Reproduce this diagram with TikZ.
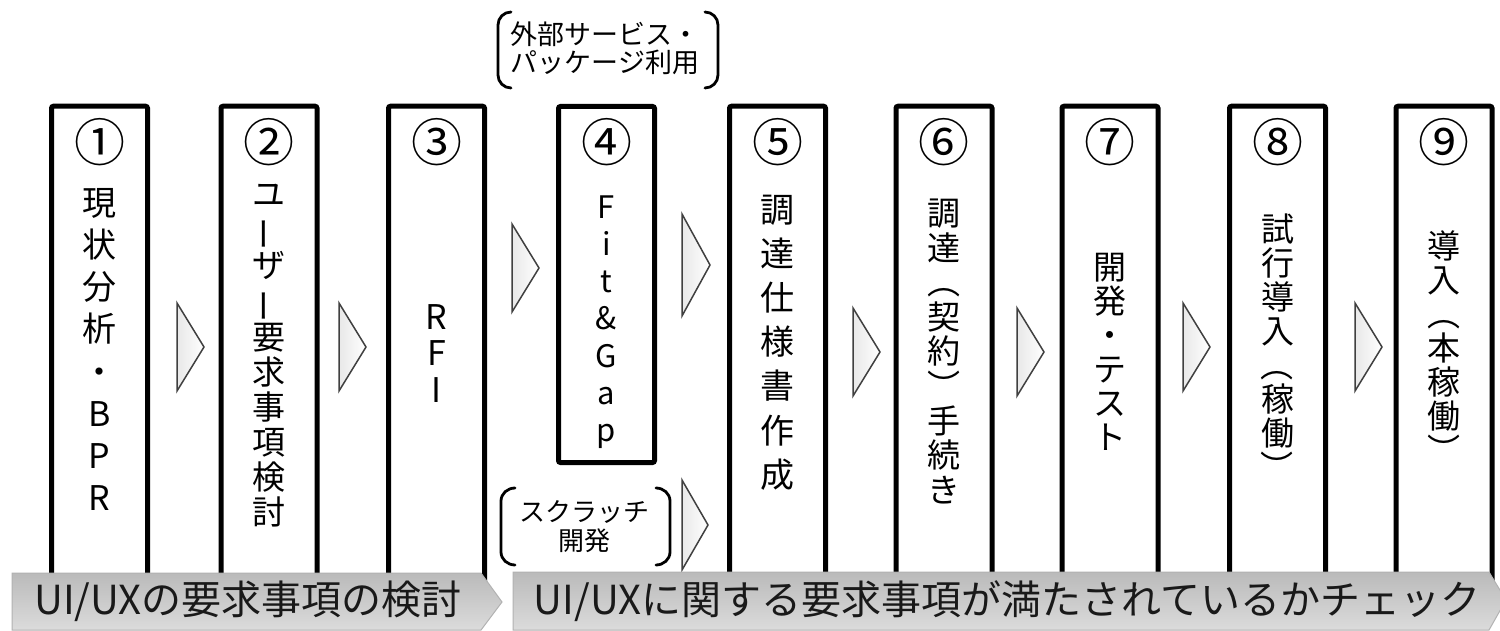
\documentclass[tikz,border=0pt]{standalone}
\usepackage{fontspec}
\usepackage{graphicx}
\setmainfont{Noto Sans CJK JP}
\newcommand\fsz[2]{\fontsize{#1}{#2}\selectfont}
\newcommand\vbar{\rotatebox[origin=c]{90}{ー}}
\newcommand\vlp{\rotatebox[origin=c]{-90}{（}}
\newcommand\vrp{\rotatebox[origin=c]{-90}{）}}
\begin{document}
\begin{tikzpicture}[x=1pt,y=-1pt,
  stage/.style={draw=black, line width=5pt, rounded corners=2pt, fill=white, minimum width=96, inner sep=0pt},
  tall/.style={stage, minimum height=512},
  vt/.style={align=center, inner sep=0pt, text=black},
  num/.style={inner sep=0pt, font=\fsz{51}{51}},
  chev/.style={draw=black!75, line width=1.5pt, left color=black!9, right color=white, line join=miter},
  banner/.style={draw=black!30, line width=1pt, top color=black!27, bottom color=black!14},
  btxt/.style={inner sep=0pt, font=\fsz{40}{40}, text=black!90},
  brk/.style={line width=2.8pt, line cap=round},
  note/.style={align=center, inner sep=0pt}
]
\useasboundingbox (0,0) rectangle (1500,631);
\fill[white] (0,0) rectangle (1500,631);

% stage boxes
\node[tall] (b1) at (99.5,362.25) {};
\node[tall] (b2) at (269,362.25) {};
\node[tall] (b3) at (436.5,362.25) {};
\node[stage, minimum height=356] (b4) at (606.5,284.5) {};
\node[tall] (b5) at (777.5,362.25) {};
\node[tall] (b6) at (944,362.25) {};
\node[tall] (b7) at (1110,362.25) {};
\node[tall] (b8) at (1277.5,362.25) {};
\node[tall] (b9) at (1444,362.25) {};

% circled numbers
\node[num] (n1) at (99.5,142) {①};
\node[num] (n2) at (269,142) {②};
\node[num] (n3) at (436.5,142) {③};
\node[num] (n4) at (606.5,142) {④};
\node[num] (n5) at (777.5,142) {⑤};
\node[num] (n6) at (944,142) {⑥};
\node[num] (n7) at (1110,142) {⑦};
\node[num] (n8) at (1277.5,142) {⑧};
\node[num] (n9) at (1444,142) {⑨};

% vertical texts
\node[vt, font=\fsz{34}{42.1}] (t1) at (99.5,349.5) {現\\状\\分\\析\\・\\B\\P\\R};
\node[vt, font=\fsz{33}{35}] (t2) at (269,355.5) {ユ\\\vbar\\ザ\\\vbar\\要\\求\\事\\項\\検\\討};
\node[vt, font=\fsz{34}{36.5}] (t3) at (436.5,353.5) {R\\F\\I};
\node[vt, font=\fsz{31}{37.2}] (t4) at (606.5,322) {F\\i\\t\\\&\\G\\a\\p};
\node[vt, font=\fsz{34}{44.2}] (t5) at (777.5,342.5) {調\\達\\仕\\様\\書\\作\\成};
\node[vt, font=\fsz{33}{34.6}] (t6) at (944,351.5) {調\\達\\\vlp\\契\\約\\\vrp\\手\\続\\き};
\node[vt, font=\fsz{33}{34}] (t7) at (1110,352) {開\\発\\・\\テ\\ス\\ト};
\node[vt, font=\fsz{33}{34}] (t8) at (1277.5,349) {試\\行\\導\\入\\\vlp\\稼\\働\\\vrp};
\node[vt, font=\fsz{33}{34}] (t9) at (1444,349) {導\\入\\\vlp\\本\\稼\\働\\\vrp};

% chevrons
\draw[chev] (177,303) -- (204,347) -- (177,391) -- cycle;
\draw[chev] (339,303) -- (366,347) -- (339,391) -- cycle;
\draw[chev] (512,224) -- (539,268) -- (512,312) -- cycle;
\draw[chev] (682,214) -- (710,265) -- (682,316) -- cycle;
\draw[chev] (682,480) -- (708,525) -- (682,570) -- cycle;
\draw[chev] (853,308) -- (880,352) -- (853,396) -- cycle;
\draw[chev] (1017,308) -- (1044,352) -- (1017,396) -- cycle;
\draw[chev] (1183,303) -- (1210,347) -- (1183,391) -- cycle;
\draw[chev] (1355,303) -- (1382,347) -- (1355,391) -- cycle;

% bracketed notes
\draw[brk] (511,12) to[out=180,in=90] (498,25) -- (498,75) to[out=-90,in=180] (511,88);
\draw[brk] (705,12) to[out=0,in=90] (718,25) -- (718,75) to[out=-90,in=0] (705,88);
\node[note, font=\fsz{27}{28}] (ext) at (605,48) {外部サービス・\\パッケージ利用};
\draw[brk] (515,488) to[out=180,in=90] (501,501) -- (501,552) to[out=-90,in=180] (515,565);
\draw[brk] (656,488) to[out=0,in=90] (670,501) -- (670,552) to[out=-90,in=0] (656,565);
\node[note, font=\fsz{26}{29}] (scr) at (584,527) {スクラッチ\\開発};

% banners
\draw[banner] (12,573) -- (481,573) -- (502,602) -- (481,630) -- (12,630) -- cycle;
\node[btxt] (L) at (248,601) {UI/UXの要求事項の検討};
\draw[banner] (513,572) -- (1489,572) -- (1506,600) -- (1489,630) -- (513,630) -- cycle;
\node[btxt] (R) at (1007,601) {UI/UXに関する要求事項が満たされているかチェック};
\end{tikzpicture}
\end{document}
